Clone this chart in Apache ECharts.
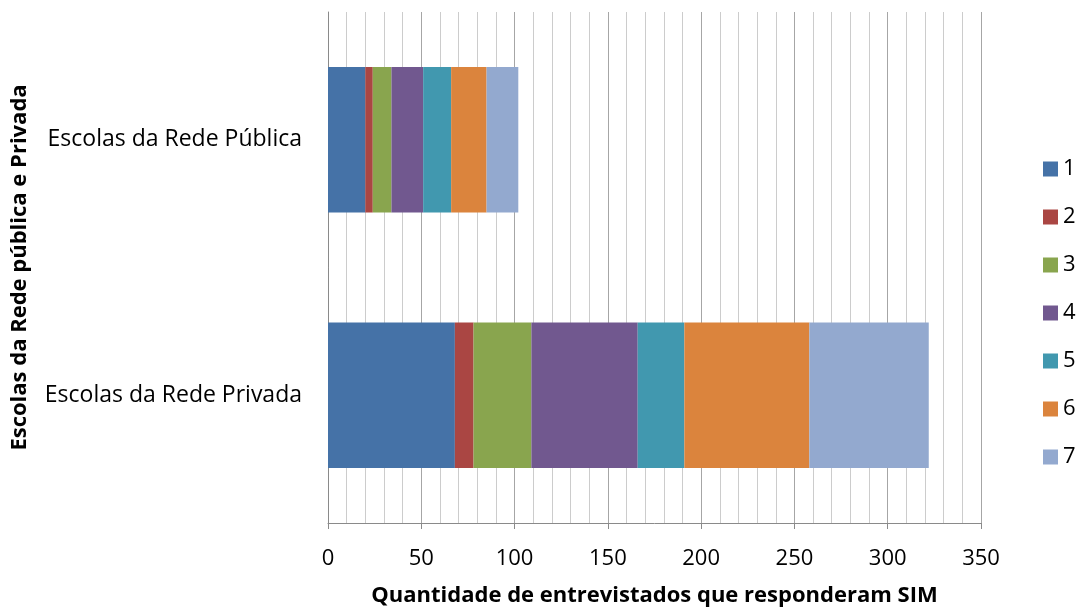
<!DOCTYPE html>
<html>
<head>
<meta charset="utf-8">
<script src="https://cdn.jsdelivr.net/npm/echarts@6/dist/echarts.min.js"></script>
<style>
html,body{margin:0;padding:0;background:#fff;}
#chart{width:1083px;height:610px;}
</style>
</head>
<body>
<div id="chart"></div>
<script>
// Categories (bottom to top in ECharts order)
var categories = ['Escolas da Rede Privada', 'Escolas da Rede Pública'];
var seriesNames = ['1', '2', '3', '4', '5', '6', '7'];
// values per series: [Privada, Pública]
var s1 = [68, 20];
var s2 = [10, 4];
var s3 = [31, 10];
var s4 = [57, 17];
var s5 = [25, 15];
var s6 = [67, 19];
var s7 = [64, 17];
var xTicks = [0, 50, 100, 150, 200, 250, 300, 350];
var xTitle = 'Quantidade de entrevistados que responderam SIM';
var yTitle = 'Escolas da Rede pública e Privada';
var colors = ['#4572A7', '#AA4643', '#89A54E', '#71588F', '#4198AF', '#DB843D', '#93A9CF'];

var allValues = [s1, s2, s3, s4, s5, s6, s7];
var FONT = 'Open Sans';

var series = seriesNames.map(function (n, i) {
  return {
    name: n,
    type: 'bar',
    stack: 'total',
    barWidth: '57%',
    data: allValues[i],
    itemStyle: { color: colors[i] }
  };
});

var chart = echarts.init(document.getElementById('chart'), null, { renderer: 'canvas' });
chart.setOption({
  animation: false,
  backgroundColor: '#ffffff',
  color: colors,
  textStyle: { fontFamily: FONT },
  grid: { left: 328, right: 102, top: 12, bottom: 87, containLabel: false, outerBoundsMode: 'none' },
  legend: {
    orient: 'vertical',
    left: 1038,
    top: 153,
    padding: 5,
    itemWidth: 15,
    itemHeight: 15,
    itemGap: 26,
    icon: 'rect',
    data: seriesNames,
    textStyle: { fontFamily: FONT, fontSize: 22, color: '#000' }
  },
  xAxis: {
    type: 'value',
    min: xTicks[0],
    max: xTicks[xTicks.length - 1],
    interval: 50,
    name: xTitle,
    nameLocation: 'middle',
    nameGap: 62,
    nameTextStyle: { fontFamily: FONT, fontSize: 22, fontWeight: 'bold', color: '#000' },
    axisLine: { show: true, lineStyle: { color: '#8a8a8a', width: 1 } },
    axisTick: { show: true, length: 6, lineStyle: { color: '#8a8a8a' } },
    minorTick: { show: false, splitNumber: 5 },
    axisLabel: { fontFamily: FONT, fontSize: 22, color: '#000', margin: 25 },
    splitLine: { show: true, lineStyle: { color: '#a6a6a6', width: 1 } },
    minorSplitLine: { show: true, lineStyle: { color: '#cccccc', width: 1 } }
  },
  yAxis: {
    type: 'category',
    data: categories,
    name: yTitle,
    nameLocation: 'middle',
    nameGap: 297,
    nameRotate: 90,
    nameTextStyle: { fontFamily: FONT, fontSize: 22, fontWeight: 'bold', color: '#000' },
    axisLine: { show: true, lineStyle: { color: '#8a8a8a', width: 1 } },
    axisTick: { show: false },
    axisLabel: { fontFamily: FONT, fontSize: 23, color: '#000', margin: 26 },
    splitLine: { show: false }
  },
  series: series
});
</script>
</body>
</html>
